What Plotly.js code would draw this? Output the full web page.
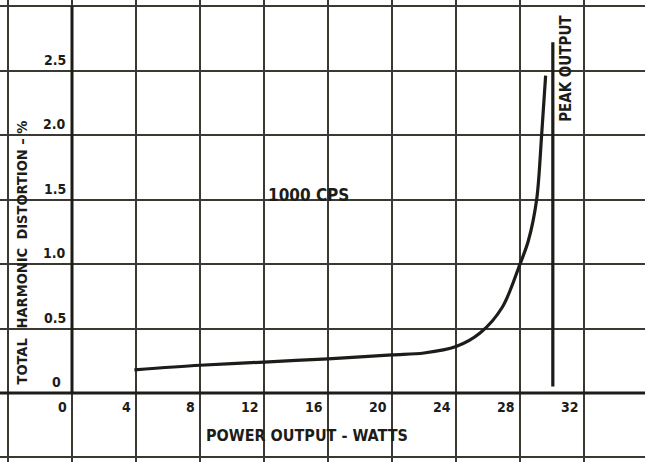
<!DOCTYPE html>
<html>
<head>
<meta charset="utf-8">
<script src="https://cdn.plot.ly/plotly-3.0.1.min.js"></script>
<style>html,body{margin:0;padding:0;background:#fff;}#chart{width:645px;height:462px;}</style>
</head>
<body>
<div id="chart"></div>
<script>
// Data
var powerWatts = [3.9, 8, 12, 16, 20, 22, 24, 25.5, 26.9, 28.0, 28.52, 29.04, 29.35, 29.6];
var distortionPct = [0.18, 0.215, 0.24, 0.265, 0.295, 0.31, 0.36, 0.465, 0.667, 1.0, 1.18, 1.5, 2.0, 2.46];
var peakX = [30.05, 30.05];
var peakY = [0.05, 2.72];
var xTickVals = [0, 4, 8, 12, 16, 20, 24, 28, 32];
var xTickText = ["0", "4", "8", "12", "16", "20", "24", "28", "32"];
var yTickVals = [0, 0.5, 1.0, 1.5, 2.0, 2.5];
var yTickText = ["0", "0.5", "1.0", "1.5", "2.0", "2.5"];

var ink = "#1c1c18";
var gridInk = "#3a3a32";
var fontFam = "DejaVu Sans Condensed, DejaVu Sans, sans-serif";

var traces = [
  {x: powerWatts, y: distortionPct, type: "scatter", mode: "lines",
   line: {color: ink, width: 3.2, shape: "spline", smoothing: 0.9}, hoverinfo: "skip"},
  {x: peakX, y: peakY, type: "scatter", mode: "lines",
   line: {color: ink, width: 3.2}, hoverinfo: "skip"}
];

var annotations = [];
xTickVals.forEach(function (v, i) {
  annotations.push({x: v, y: -0.11, xref: "x", yref: "y", text: xTickText[i], showarrow: false,
    xanchor: "right", yanchor: "middle", xshift: -3,
    font: {family: fontFam, size: 14, color: ink, weight: "bold"}});
});
yTickVals.forEach(function (v, i) {
  annotations.push({x: 0, y: v, xref: "x", yref: "y", text: yTickText[i], showarrow: false,
    xanchor: "right", yanchor: "bottom", xshift: (i === 0 ? -9 : -4), yshift: 1,
    font: {family: fontFam, size: 14, color: ink, weight: "bold"}});
});
annotations.push({x: 14.69, y: -0.326, xref: "x", yref: "y", text: "POWER OUTPUT - WATTS", showarrow: false,
  xanchor: "center", yanchor: "middle",
  font: {family: fontFam, size: 16, color: ink, weight: "bold"}});
annotations.push({x: 14.8, y: 1.535, xref: "x", yref: "y", text: "1000 CPS", showarrow: false,
  xanchor: "center", yanchor: "middle",
  font: {family: fontFam, size: 17, color: ink, weight: "bold"}});
annotations.push({x: 30.05, y: 2.95, xref: "x", yref: "y", text: "PEAK OUTPUT", showarrow: false,
  xanchor: "left", yanchor: "top", textangle: -90, xshift: 2,
  font: {family: fontFam, size: 15, color: ink, weight: "bold"}});
// y-axis title words
[["TOTAL", 0.248], ["HARMONIC", 0.814], ["DISTORTION – %", 1.65]].forEach(function (w) {
  annotations.push({x: -3.1, y: w[1], xref: "x", yref: "y", text: w[0], showarrow: false,
    xanchor: "center", yanchor: "middle", textangle: -90,
    font: {family: fontFam, size: 14.5, color: ink, weight: "bold"}});
});

var shapes = [
  {type: "line", xref: "x", yref: "y", x0: 0, x1: 0, y0: 0, y1: 3.0, line: {color: ink, width: 3}},
  {type: "line", xref: "x", yref: "y", x0: -4.5, x1: 36, y0: 0, y1: 0, line: {color: ink, width: 3}}
];

var layout = {
  width: 645, height: 462,
  margin: {l: 0, r: 0, t: 0, b: 0, pad: 0},
  paper_bgcolor: "#ffffff", plot_bgcolor: "#ffffff",
  showlegend: false,
  xaxis: {range: [-4.5, 35.81], tick0: 0, dtick: 4, showgrid: true, gridcolor: gridInk, gridwidth: 2,
          zeroline: false, showticklabels: false, ticks: "", showline: false, fixedrange: true},
  yaxis: {range: [-0.535, 3.047], tick0: 0, dtick: 0.5, showgrid: true, gridcolor: gridInk, gridwidth: 2,
          zeroline: false, showticklabels: false, ticks: "", showline: false, fixedrange: true},
  annotations: annotations,
  shapes: shapes
};

Plotly.newPlot("chart", traces, layout, {displayModeBar: false, staticPlot: true});
</script>
</body>
</html>
